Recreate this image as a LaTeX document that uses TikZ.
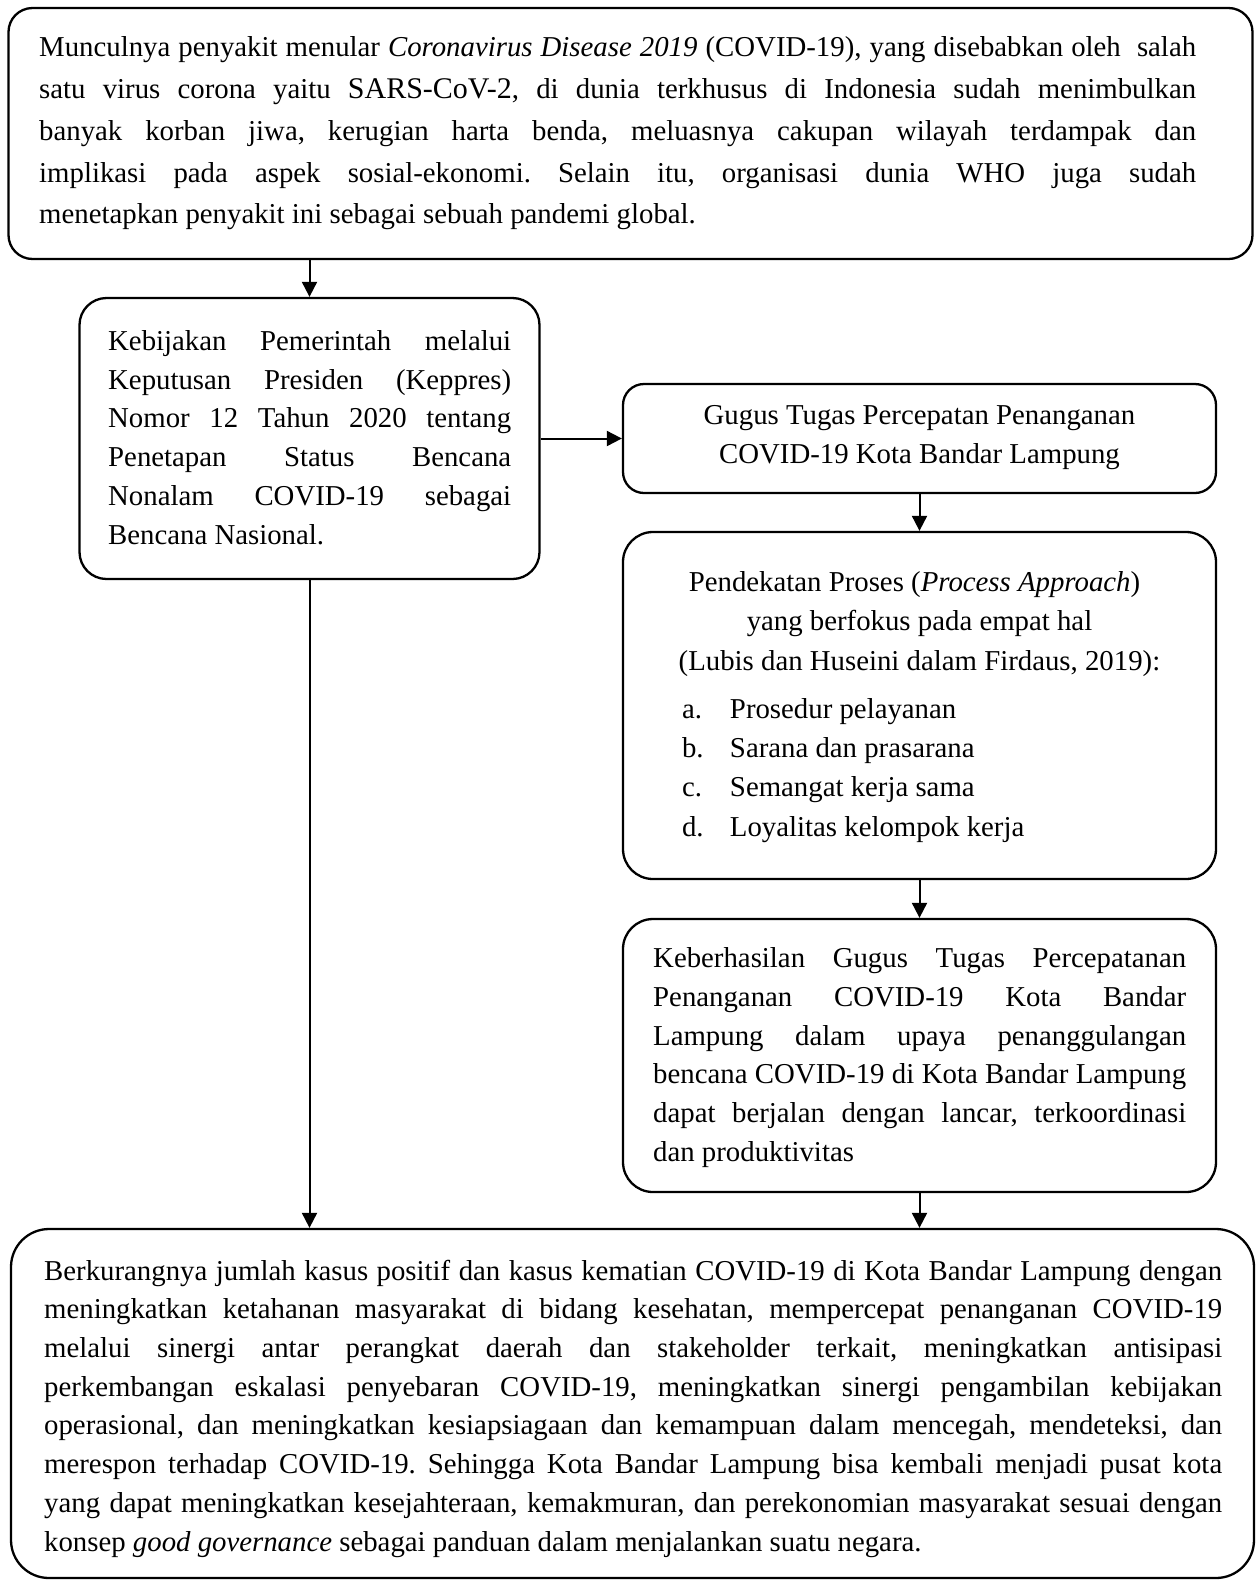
\documentclass[tikz,border=0pt]{standalone}
\usepackage{fontspec}
\setmainfont{Liberation Serif}
\usetikzlibrary{arrows.meta}
\frenchspacing
\newcommand\jl[1]{\hbox to \hsize{#1}}
\newcommand\nl[1]{\hbox{#1}}
\newcommand\cl[1]{\hbox to \hsize{\hss #1\hss}}
\begin{document}
\begin{tikzpicture}[x=1pt,y=-1pt,
  box/.style={draw, line width=2.3pt, rounded corners=#1, inner sep=0pt},
  txt/.style={inner sep=0pt, font=\fontsize{28.8}{38.7}\selectfont\frenchspacing},
  arr/.style={line width=2pt, -{Triangle[length=15pt,width=15pt]}}]
\useasboundingbox (0,0) rectangle (1256,1580);

% boxes
\node[box=24pt, minimum width=1244pt, minimum height=251pt] (top) at (630.5,133.5) {};
\node[box=27pt, minimum width=460pt, minimum height=281pt] (b2) at (309.5,438.5) {};
\node[box=21pt, minimum width=593pt, minimum height=109pt] (b3) at (919.5,438.5) {};
\node[box=30pt, minimum width=593pt, minimum height=347pt] (b4) at (919.5,705.5) {};
\node[box=30pt, minimum width=593pt, minimum height=273pt] (b5) at (919.5,1055.5) {};
\node[box=38pt, minimum width=1243pt, minimum height=349pt] (bot) at (632.5,1403.5) {};

% texts
\node[txt, font=\fontsize{28.8}{41.8}\selectfont\frenchspacing, anchor=west] (t1) at (39,133.5) {\vbox{\hsize=1157pt
\jl{Munculnya penyakit menular \textit{Coronavirus Disease 2019} (COVID-19), yang disebabkan oleh~ salah}%
\jl{satu virus corona yaitu {\fontsize{30}{41.8}\selectfont SARS-CoV-2}, di dunia terkhusus di Indonesia sudah menimbulkan}%
\jl{banyak korban jiwa, kerugian harta benda, meluasnya cakupan wilayah terdampak dan}%
\jl{implikasi pada aspek sosial-ekonomi. Selain itu, organisasi dunia WHO juga sudah}%
\nl{menetapkan penyakit ini sebagai sebuah pandemi global.}}};

\node[txt, anchor=west] (t2) at (108,437.5) {\vbox{\hsize=403pt
\jl{Kebijakan Pemerintah melalui}%
\jl{Keputusan Presiden (Keppres)}%
\jl{Nomor 12 Tahun 2020 tentang}%
\jl{Penetapan Status Bencana}%
\jl{Nonalam COVID-19 sebagai}%
\nl{Bencana Nasional.}}};

\node[txt] (t3) at (919.5,437.5) {\vbox{\hsize=593pt
\cl{Gugus Tugas Percepatan Penanganan}%
\cl{COVID-19 Kota Bandar Lampung}}};

\node[txt, font=\fontsize{28.8}{39.3}\selectfont\frenchspacing] (t4) at (919.5,707) {\vbox{\hsize=593pt
\cl{Pendekatan Proses (\textit{Process Approach})\hskip 10pt}%
\cl{yang berfokus pada empat hal}%
\cl{(Lubis dan Huseini dalam Firdaus, 2019):}%
\vskip 9pt
\jl{\hskip 59pt\makebox[48pt][l]{a.}Prosedur pelayanan\hfil}%
\jl{\hskip 59pt\makebox[48pt][l]{b.}Sarana dan prasarana\hfil}%
\jl{\hskip 59pt\makebox[48pt][l]{c.}Semangat kerja sama\hfil}%
\jl{\hskip 59pt\makebox[48pt][l]{d.}Loyalitas kelompok kerja\hfil}}};

\node[txt, anchor=west] (t5) at (653,1057.5) {\vbox{\hsize=533pt
\jl{Keberhasilan Gugus Tugas Percepatanan}%
\jl{Penanganan COVID-19 Kota Bandar}%
\jl{Lampung dalam upaya penanggulangan}%
\jl{bencana COVID-19 di Kota Bandar Lampung}%
\jl{dapat berjalan dengan lancar, terkoordinasi}%
\nl{dan produktivitas}}};

\node[txt, anchor=west] (t6) at (44,1408.5) {\vbox{\hsize=1178pt
\jl{Berkurangnya jumlah kasus positif dan kasus kematian COVID-19 di Kota Bandar Lampung dengan}%
\jl{meningkatkan ketahanan masyarakat di bidang kesehatan, mempercepat penanganan COVID-19}%
\jl{melalui sinergi antar perangkat daerah dan stakeholder terkait, meningkatkan antisipasi}%
\jl{perkembangan eskalasi penyebaran COVID-19, meningkatkan sinergi pengambilan kebijakan}%
\jl{operasional, dan meningkatkan kesiapsiagaan dan kemampuan dalam mencegah, mendeteksi, dan}%
\jl{merespon terhadap COVID-19. Sehingga Kota Bandar Lampung bisa kembali menjadi pusat kota}%
\jl{yang dapat meningkatkan kesejahteraan, kemakmuran, dan perekonomian masyarakat sesuai dengan}%
\nl{konsep \textit{good governance} sebagai panduan dalam menjalankan suatu negara.}}};

% connectors
\draw[arr] (top.south -| b2.north) -- (b2.north);
\draw[arr] (b2.east) -- (b3.west);
\draw[arr] (b3.south) -- (b4.north);
\draw[arr] (b4.south) -- (b5.north);
\draw[arr] (b2.south) -- (b2.south |- bot.north);
\draw[arr] (b5.south) -- (b5.south |- bot.north);
\end{tikzpicture}
\end{document}
